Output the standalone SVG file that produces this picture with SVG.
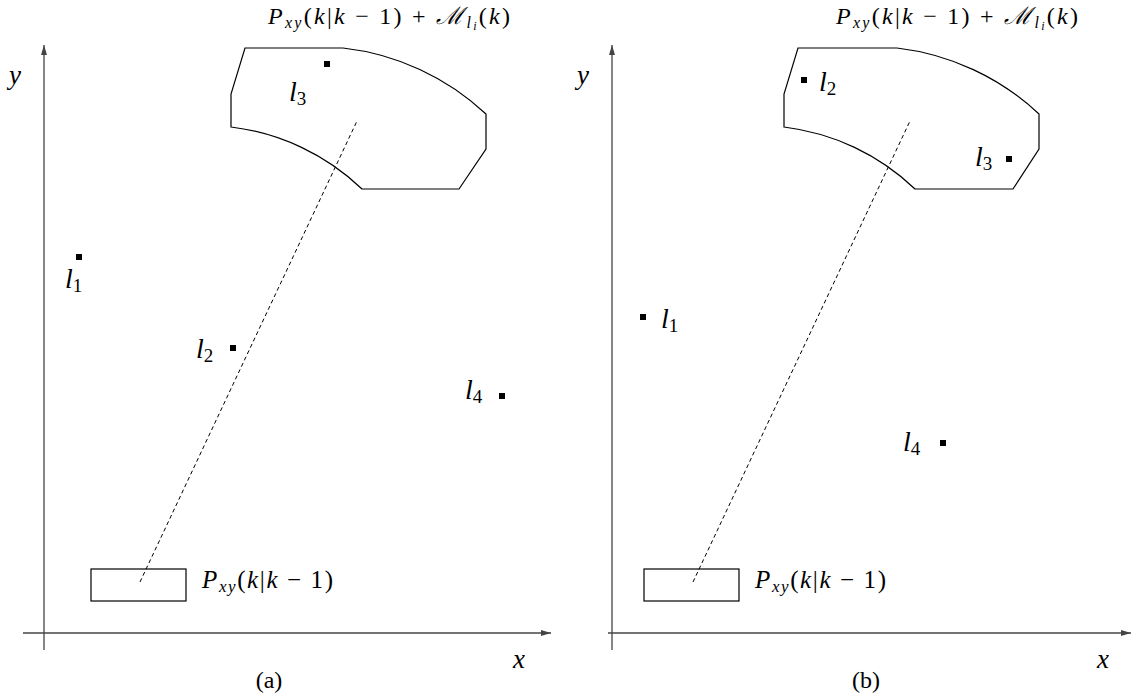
<svg xmlns="http://www.w3.org/2000/svg" width="1140" height="696" viewBox="0 0 1140 696">
<style>
.ax{stroke:#444;stroke-width:1.3;fill:none}
.sh{stroke:#000;stroke-width:1.2;fill:none}
.ds{stroke:#000;stroke-width:1;stroke-dasharray:4 3;fill:none}
text{font-family:'Liberation Serif','Times New Roman','DejaVu Serif',serif;fill:#000}
.i{font-style:italic}
.lm{fill:#000}
</style>
<defs>
<marker id="ah" viewBox="0 0 10 6" refX="10" refY="3" markerWidth="10" markerHeight="6" markerUnits="userSpaceOnUse" orient="auto">
<path d="M0,0 L10,3 L0,6 Z" fill="#444"/>
</marker>
</defs>
<g id="connectors">
<line class="ax" x1="44" y1="650" x2="44" y2="45" marker-end="url(#ah)"/>
<line class="ax" x1="23" y1="633" x2="551" y2="633" marker-end="url(#ah)"/>
<line class="ax" x1="612" y1="650" x2="612" y2="45" marker-end="url(#ah)"/>
<line class="ax" x1="608" y1="633" x2="1131" y2="633" marker-end="url(#ah)"/>
<line class="ds" x1="140" y1="582" x2="357" y2="121"/>
<line class="ds" x1="693" y1="582" x2="910" y2="121"/>
</g>
<g id="panel-a" font-family="'Liberation Serif', serif">
<text class="i" x="9" y="84" font-size="27">y</text>
<text class="i" x="513" y="668" font-size="27">x</text>
<text x="269" y="688" font-size="24" text-anchor="middle">(a)</text>
<g id="a-region">
<path class="sh" d="M245,48 L343,48 A250,250 0 0 1 486,114 L486,149 L459,189 L362,189 A230,230 0 0 0 231,127 L231,94 Z"/>
<text x="268" y="24" font-size="24" textLength="242" lengthAdjust="spacing"><tspan class="i">P</tspan><tspan class="i" font-size="16" dy="4">xy</tspan><tspan dy="-4">(</tspan><tspan class="i">k</tspan>|<tspan class="i">k</tspan> − 1) + <tspan class="i">ℳ</tspan><tspan class="i" font-size="16" dy="4">l</tspan><tspan class="i" font-size="12" dy="2">i</tspan><tspan dy="-6">(</tspan><tspan class="i">k</tspan>)</text>
</g>
<g id="a-prior">
<rect class="sh" x="91" y="569" width="95" height="32"/>
<text x="202" y="588" font-size="25" textLength="131" lengthAdjust="spacing"><tspan class="i">P</tspan><tspan class="i" font-size="17" dy="4">xy</tspan><tspan dy="-4">(</tspan><tspan class="i">k</tspan>|<tspan class="i">k</tspan> − 1)</text>
</g>
<g id="a-l1"><rect class="lm" x="76" y="254" width="6" height="6"/><text x="65" y="288" font-size="28"><tspan class="i">l</tspan><tspan font-size="19" dy="4">1</tspan></text></g>
<g id="a-l2"><rect class="lm" x="230" y="345" width="6" height="6"/><text x="196" y="358" font-size="28"><tspan class="i">l</tspan><tspan font-size="19" dy="4">2</tspan></text></g>
<g id="a-l3"><rect class="lm" x="324" y="61" width="6" height="6"/><text x="289" y="101" font-size="28"><tspan class="i">l</tspan><tspan font-size="19" dy="4">3</tspan></text></g>
<g id="a-l4"><rect class="lm" x="499" y="393" width="6" height="6"/><text x="465" y="399" font-size="28"><tspan class="i">l</tspan><tspan font-size="19" dy="4">4</tspan></text></g>
</g>
<g id="panel-b" font-family="'Liberation Serif', serif">
<text class="i" x="577" y="84" font-size="27">y</text>
<text class="i" x="1097" y="668" font-size="27">x</text>
<text x="866" y="688" font-size="24" text-anchor="middle">(b)</text>
<g id="b-region">
<path class="sh" d="M798,48 L897,48 A250,250 0 0 1 1039,114 L1039,149 L1013,189 L915,189 A230,230 0 0 0 784,127 L784,94 Z"/>
<text x="836" y="24" font-size="24" textLength="242" lengthAdjust="spacing"><tspan class="i">P</tspan><tspan class="i" font-size="16" dy="4">xy</tspan><tspan dy="-4">(</tspan><tspan class="i">k</tspan>|<tspan class="i">k</tspan> − 1) + <tspan class="i">ℳ</tspan><tspan class="i" font-size="16" dy="4">l</tspan><tspan class="i" font-size="12" dy="2">i</tspan><tspan dy="-6">(</tspan><tspan class="i">k</tspan>)</text>
</g>
<g id="b-prior">
<rect class="sh" x="644" y="569" width="95" height="32"/>
<text x="755" y="588" font-size="25" textLength="131" lengthAdjust="spacing"><tspan class="i">P</tspan><tspan class="i" font-size="17" dy="4">xy</tspan><tspan dy="-4">(</tspan><tspan class="i">k</tspan>|<tspan class="i">k</tspan> − 1)</text>
</g>
<g id="b-l1"><rect class="lm" x="640" y="314" width="6" height="6"/><text x="661" y="328" font-size="28"><tspan class="i">l</tspan><tspan font-size="19" dy="4">1</tspan></text></g>
<g id="b-l2"><rect class="lm" x="801" y="77" width="6" height="6"/><text x="819" y="91" font-size="28"><tspan class="i">l</tspan><tspan font-size="19" dy="4">2</tspan></text></g>
<g id="b-l3"><rect class="lm" x="1006" y="156" width="6" height="6"/><text x="975" y="166" font-size="28"><tspan class="i">l</tspan><tspan font-size="19" dy="4">3</tspan></text></g>
<g id="b-l4"><rect class="lm" x="940" y="440" width="6" height="6"/><text x="903" y="451" font-size="28"><tspan class="i">l</tspan><tspan font-size="19" dy="4">4</tspan></text></g>
</g>
</svg>
